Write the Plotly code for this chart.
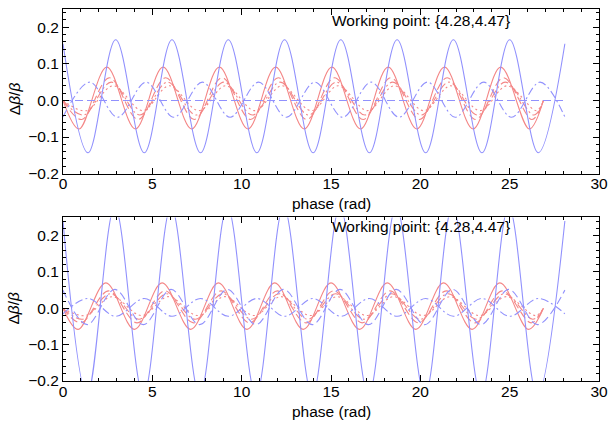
import plotly.graph_objects as go

# Phase at the end of one turn for each plane (rad)
X_END_RED = 26.89
X_END_BLUE = 28.09

# ---------------- top panel ----------------
# blue solid: trough/peak positions and levels
top_bs_x = [1.40, 2.95, 4.55, 6.10, 7.70, 9.25, 10.85, 12.40, 14.00, 15.55,
            17.15, 18.70, 20.30, 21.85, 23.45, 25.00, 26.60]
top_bs_lv = (-0.143, 0.166)
top_bs_ends = (0.155, 0.155)

# blue dashed (flat)
top_bd_x = [0.0, X_END_BLUE]
top_bd_y = [0.0, 0.0]

# blue dot-dashed
top_bdd_x = [1.50, 3.05, 4.65, 6.20, 7.80, 9.35, 10.95, 12.50, 14.10, 15.65,
             17.25, 18.80, 20.40, 21.95, 23.55, 25.10, 26.70]
top_bdd_lv = (0.050, -0.046)
top_bdd_ends = (-0.045, -0.045)

# red solid
top_rs_x = [0.90, 2.45, 4.05, 5.60, 7.20, 8.75, 10.35, 11.90, 13.50, 15.05,
            16.65, 18.20, 19.80, 21.35, 22.95, 24.50, 26.10]
top_rs_lv = (-0.078, 0.091)

# red dashed
top_rd_x = [1.05, 2.60, 4.20, 5.75, 7.35, 8.90, 10.50, 12.05, 13.65, 15.20,
            16.80, 18.35, 19.95, 21.50, 23.10, 24.65, 26.25]
top_rd_lv = (-0.052, 0.062)

# red dot-dashed
top_rdd_x = [1.15, 2.70, 4.30, 5.85, 7.45, 9.00, 10.60, 12.15, 13.75, 15.30,
             16.90, 18.45, 20.05, 21.60, 23.20, 24.75, 26.35]
top_rdd_lv = (-0.040, 0.050)

# red dotted
top_rdt_x = [1.30, 2.80, 4.45, 5.95, 7.60, 9.10, 10.75, 12.25, 13.90, 15.40,
             17.05, 18.55, 20.20, 21.70, 23.35, 24.85, 26.50]
top_rdt_lv = (-0.028, 0.040)

# ---------------- bottom panel ----------------
bot_bs_x = [1.35, 2.90, 4.50, 6.05, 7.65, 9.20, 10.80, 12.35, 13.95, 15.50,
            17.10, 18.65, 20.25, 21.80, 23.40, 24.95, 26.55]
bot_bs_lv = (-0.24, 0.28)
bot_bs_ends = (0.24, 0.24)

bot_bd_x = [1.35, 2.90, 4.50, 6.05, 7.65, 9.20, 10.80, 12.35, 13.95, 15.50,
            17.10, 18.65, 20.25, 21.80, 23.40, 24.95, 26.55]
bot_bd_lv = (-0.045, 0.052)
bot_bd_ends = (0.050, 0.050)

bot_bdd_x = [1.40, 2.95, 4.55, 6.10, 7.70, 9.25, 10.85, 12.40, 14.00, 15.55,
             17.15, 18.70, 20.30, 21.85, 23.45, 25.00, 26.60]
bot_bdd_lv = (0.027, -0.022)
bot_bdd_ends = (-0.015, -0.015)

bot_rs_x = [0.85, 2.40, 4.00, 5.55, 7.15, 8.70, 10.30, 11.85, 13.45, 15.00,
            16.60, 18.15, 19.75, 21.30, 22.90, 24.45, 26.05]
bot_rs_lv = (-0.058, 0.070)

bot_rd_x = [1.00, 2.55, 4.15, 5.70, 7.30, 8.85, 10.45, 12.00, 13.60, 15.15,
            16.75, 18.30, 19.90, 21.45, 23.05, 24.60, 26.20]
bot_rd_lv = (-0.040, 0.048)

bot_rdd_x = [1.10, 2.65, 4.25, 5.80, 7.40, 8.95, 10.55, 12.10, 13.70, 15.25,
             16.85, 18.40, 20.00, 21.55, 23.15, 24.70, 26.30]
bot_rdd_lv = (-0.030, 0.040)

bot_rdt_x = [1.25, 2.75, 4.40, 5.90, 7.55, 9.05, 10.70, 12.20, 13.85, 15.35,
             17.00, 18.50, 20.15, 21.65, 23.30, 24.80, 26.45]
bot_rdt_lv = (-0.020, 0.032)

BLUE = "rgb(145,145,253)"
RED = "rgb(244,135,135)"
DASH = "8px,4px"
DOTDASH = "8px,3px,2px,3px"
DOT = "2px,3px"


def wave(ext_x, levels, ends, x_end):
    xs = [0.0] + list(ext_x) + [x_end]
    ys = [ends[0]] + [levels[i % 2] for i in range(len(ext_x))] + [ends[1]]
    return xs, ys


fig = go.Figure()


def add(xs, ys, color, dash, axis):
    fig.add_trace(go.Scatter(
        x=xs, y=ys, mode="lines",
        line=dict(color=color, width=1.1, dash=dash, shape="spline", smoothing=1.0),
        xaxis="x" if axis == 1 else "x2",
        yaxis="y" if axis == 1 else "y2",
        showlegend=False, hoverinfo="skip"))


# top panel curves
add(*wave(top_rs_x, top_rs_lv, (0, 0), X_END_RED), RED, "solid", 1)
add(*wave(top_rd_x, top_rd_lv, (0, 0), X_END_RED), RED, DASH, 1)
add(*wave(top_rdd_x, top_rdd_lv, (0, 0), X_END_RED), RED, DOTDASH, 1)
add(*wave(top_rdt_x, top_rdt_lv, (0, 0), X_END_RED), RED, DOT, 1)
add(*wave(top_bs_x, top_bs_lv, top_bs_ends, X_END_BLUE), BLUE, "solid", 1)
add(top_bd_x, top_bd_y, BLUE, DASH, 1)
add(*wave(top_bdd_x, top_bdd_lv, top_bdd_ends, X_END_BLUE), BLUE, DOTDASH, 1)

# bottom panel curves
add(*wave(bot_rs_x, bot_rs_lv, (0, 0), X_END_RED), RED, "solid", 2)
add(*wave(bot_rd_x, bot_rd_lv, (0, 0), X_END_RED), RED, DASH, 2)
add(*wave(bot_rdd_x, bot_rdd_lv, (0, 0), X_END_RED), RED, DOTDASH, 2)
add(*wave(bot_rdt_x, bot_rdt_lv, (0, 0), X_END_RED), RED, DOT, 2)
add(*wave(bot_bs_x, bot_bs_lv, bot_bs_ends, X_END_BLUE), BLUE, "solid", 2)
add(*wave(bot_bd_x, bot_bd_lv, bot_bd_ends, X_END_BLUE), BLUE, DASH, 2)
add(*wave(bot_bdd_x, bot_bdd_lv, bot_bdd_ends, X_END_BLUE), BLUE, DOTDASH, 2)

FONT = "Liberation Sans, Arial, Helvetica, sans-serif"
FS = 15.5

x_common = dict(
    range=[0, 30], dtick=5, tick0=0, ticks="inside", ticklen=6, tickwidth=1,
    tickcolor="black", showline=True, linecolor="black", linewidth=1,
    mirror="ticks", showgrid=False, zeroline=False, ticklabelstandoff=-4,
    tickfont=dict(family=FONT, size=FS, color="black"),
    minor=dict(dtick=1, ticks="inside", ticklen=3, tickcolor="black", showgrid=False),
)
y_common = dict(
    range=[-0.2, 0.25], dtick=0.1, tick0=0, tickformat=".1f", ticks="inside",
    ticklen=6, tickwidth=1, tickcolor="black", showline=True, linecolor="black",
    linewidth=1, mirror="ticks", showgrid=False, zeroline=False, ticklabelstandoff=0,
    tickfont=dict(family=FONT, size=FS, color="black"),
    minor=dict(dtick=0.02, ticks="inside", ticklen=3, tickcolor="black", showgrid=False),
)

fig.update_layout(
    width=616, height=422,
    margin=dict(l=63, r=11, t=8, b=41),
    paper_bgcolor="white", plot_bgcolor="white",
    xaxis=dict(anchor="y", domain=[0, 1], **x_common),
    yaxis=dict(anchor="x", domain=[0.5576, 1.0], **y_common),
    xaxis2=dict(anchor="y2", domain=[0, 1], **x_common),
    yaxis2=dict(anchor="x2", domain=[0.0, 0.4397], **y_common),
)

ann_font = dict(family=FONT, size=FS, color="black")
annotations = [
    dict(text="phase (rad)", x=0.5, y=0.476),
    dict(text="phase (rad)", x=0.5, y=-0.082),
    dict(text="Working point: {4.28,4.47}", x=0.667, y=0.9697),
    dict(text="Working point: {4.28,4.47}", x=0.667, y=0.4155),
    dict(text="Δ<i>β</i>/<i>β</i>", x=-0.0917, y=0.760, textangle=-90),
    dict(text="Δ<i>β</i>/<i>β</i>", x=-0.0917, y=0.197, textangle=-90),
]
for a in annotations:
    fig.add_annotation(xref="paper", yref="paper", showarrow=False,
                       xanchor="center", yanchor="middle", font=ann_font, **a)

fig.write_html("out.html")
